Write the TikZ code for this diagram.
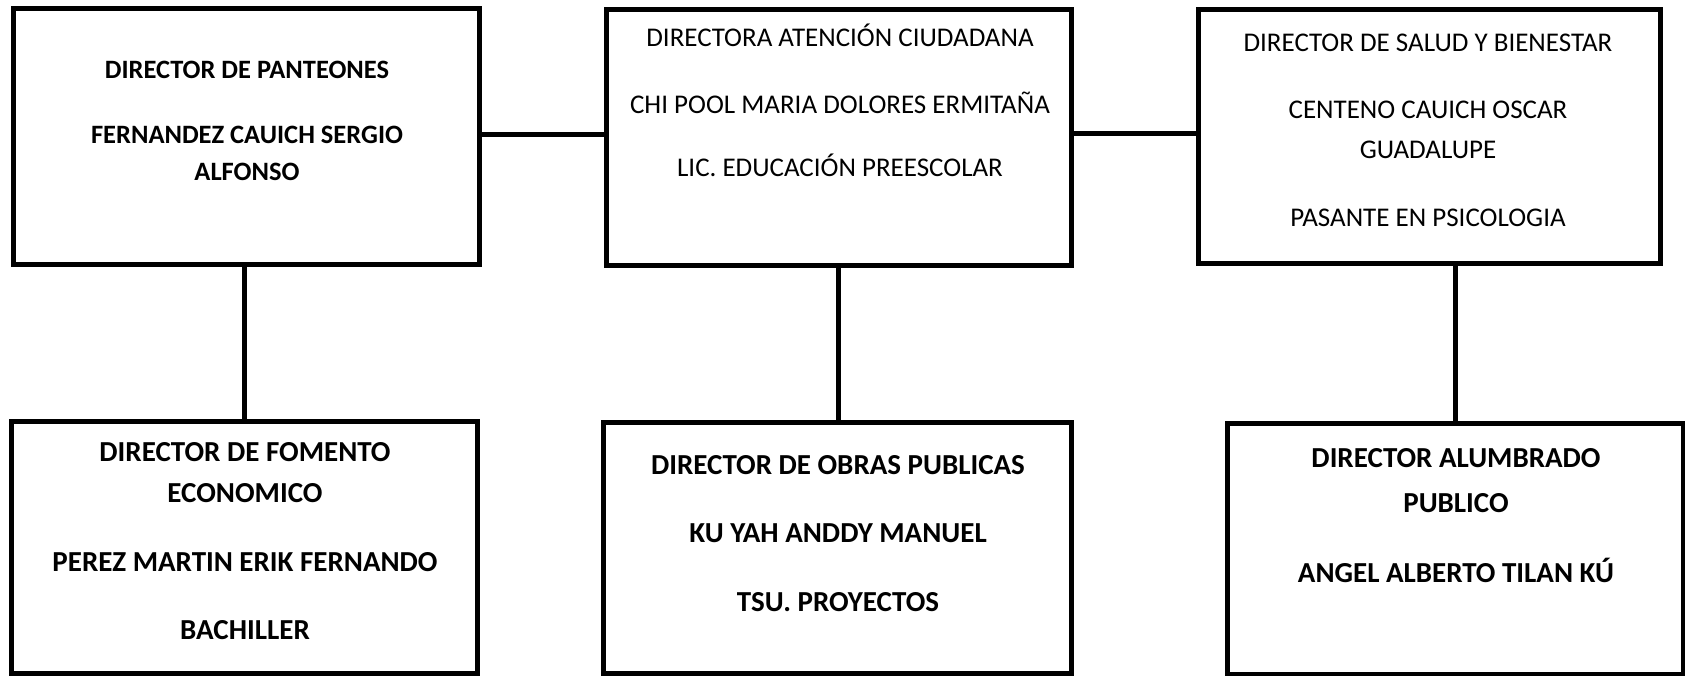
\documentclass[tikz,border=0pt]{standalone}
\usepackage{fontspec}
\setmainfont{Carlito}
\usetikzlibrary{fit}
\tikzset{
  orgbox/.style={draw, line width=5pt, inner sep=0pt},
  conn/.style={line width=5pt},
  lbl/.style={anchor=base, inner sep=0pt, font=\fontsize{27}{32}\selectfont},
  lblb/.style={anchor=base, inner sep=0pt, font=\fontsize{26.5}{32}\selectfont\bfseries},
  lblbb/.style={anchor=base, inner sep=0pt, font=\fontsize{29}{34}\selectfont\bfseries},
}
\begin{document}
\begin{tikzpicture}[x=1pt,y=-1pt]
\useasboundingbox (0,0) rectangle (1685,676);
% corner coordinates
\coordinate (a1) at (13,9);   \coordinate (z1) at (479,264);
\coordinate (a2) at (606,10); \coordinate (z2) at (1071,265);
\coordinate (a3) at (1198,10); \coordinate (z3) at (1660,263);
\coordinate (a4) at (11,421); \coordinate (z4) at (477,673);
\coordinate (a5) at (603,422); \coordinate (z5) at (1071,673);
\coordinate (a6) at (1227,423); \coordinate (z6) at (1683,674);
% boxes
\node[orgbox, fit=(a1)(z1)] (b1) {};
\node[orgbox, fit=(a2)(z2)] (b2) {};
\node[orgbox, fit=(a3)(z3)] (b3) {};
\node[orgbox, fit=(a4)(z4)] (b4) {};
\node[orgbox, fit=(a5)(z5)] (b5) {};
\node[orgbox, fit=(a6)(z6)] (b6) {};
% connectors
\coordinate (h1) at (0,135);
\coordinate (h2) at (0,134);
\draw[conn] (b1.east |- h1) -- (b2.west |- h1);
\draw[conn] (b2.east |- h2) -- (b3.west |- h2);
\draw[conn] (b4.north |- b1.south) -- (b4.north);
\draw[conn] (b2.south) -- (b2.south |- b5.north);
\draw[conn] (b6.north |- b3.south) -- (b6.north);
% texts
\node[lblb] (t11) at (247,79) {DIRECTOR DE PANTEONES};
\node[lblb] (t12) at (247,144) {FERNANDEZ CAUICH SERGIO};
\node[lblb] (t13) at (247,181) {ALFONSO};
\node[lbl] (t21) at (840,47) {DIRECTORA ATENCIÓN CIUDADANA};
\node[lbl] (t22) at (840,114) {CHI POOL MARIA DOLORES ERMITAÑA};
\node[lbl] (t23) at (840,177) {LIC. EDUCACIÓN PREESCOLAR};
\node[lbl] (t31) at (1428,52) {DIRECTOR DE SALUD Y BIENESTAR};
\node[lbl] (t32) at (1428,119) {CENTENO CAUICH OSCAR};
\node[lbl] (t33) at (1428,159) {GUADALUPE};
\node[lbl] (t34) at (1428,227) {PASANTE EN PSICOLOGIA};
\node[lblbb] (t41) at (245,461) {DIRECTOR DE FOMENTO};
\node[lblbb] (t42) at (245,502) {ECONOMICO};
\node[lblbb] (t43) at (245,571) {PEREZ MARTIN ERIK FERNANDO};
\node[lblbb] (t44) at (245,639) {BACHILLER};
\node[lblbb] (t51) at (838,474) {DIRECTOR DE OBRAS PUBLICAS};
\node[lblbb] (t52) at (838,542) {KU YAH ANDDY MANUEL};
\node[lblbb] (t53) at (838,611) {TSU. PROYECTOS};
\node[lblbb] (t61) at (1456,467) {DIRECTOR ALUMBRADO};
\node[lblbb] (t62) at (1456,512) {PUBLICO};
\node[lblbb] (t63) at (1456,582) {ANGEL ALBERTO TILAN KÚ};
\end{tikzpicture}
\end{document}
